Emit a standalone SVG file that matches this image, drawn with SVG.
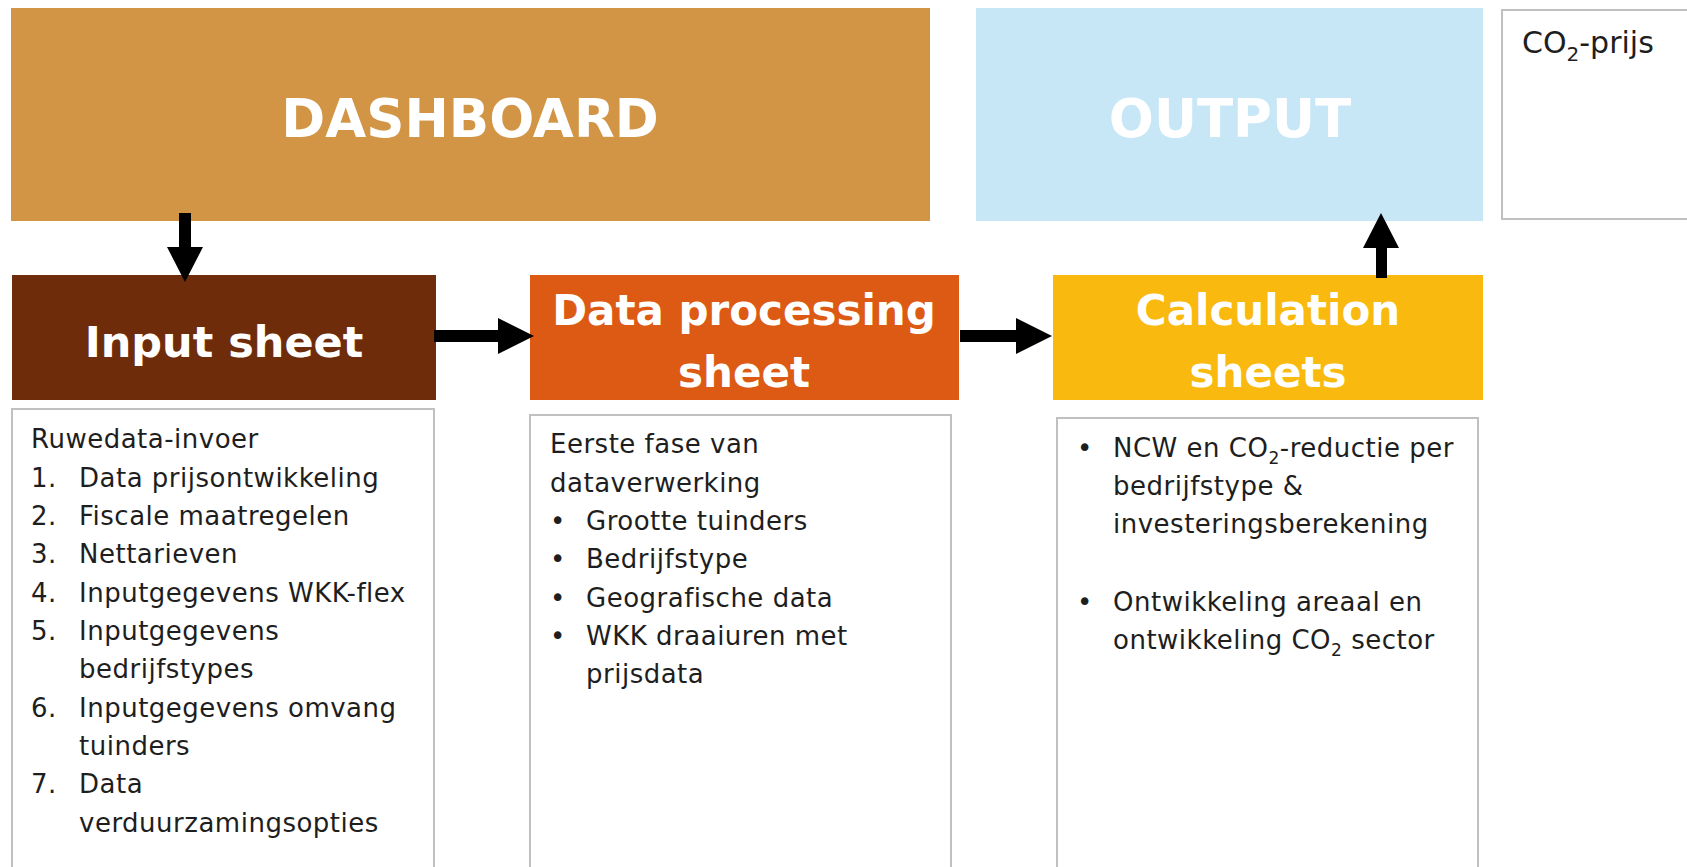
<svg xmlns="http://www.w3.org/2000/svg" width="1687" height="867" viewBox="0 0 1687 867">
<style>
.title{font-family:"DejaVu Sans",Verdana,sans-serif;font-weight:bold;fill:#ffffff;text-anchor:middle}
.big{font-size:53px}
.mid{font-size:42px}
.body{font-family:"DejaVu Sans",Verdana,sans-serif;font-size:26px;fill:#1e1e1e;letter-spacing:0.5px}
.co2{font-family:"DejaVu Sans",Verdana,sans-serif;font-size:30px;fill:#1e1e1e}
.tbox{fill:#ffffff;stroke:#c0c0c0;stroke-width:2}
.arrow{fill:#000000}
</style>
<rect width="1687" height="867" fill="#ffffff"/>
<g id="dashboard">
<rect x="11" y="8" width="919" height="213" fill="#D29545"/>
<text class="title big" x="470" y="137">DASHBOARD</text>
</g>
<g id="output">
<rect x="976" y="8" width="507" height="213" fill="#C7E7F7"/>
<text class="title big" x="1230" y="137">OUTPUT</text>
</g>
<g id="co2prijs">
<rect class="tbox" x="1502" y="10" width="200" height="209"/>
<text class="co2" x="1522" y="53">CO<tspan font-size="20" dy="8">2</tspan><tspan dy="-8">-prijs</tspan></text>
</g>
<g id="input-sheet">
<rect x="12" y="275" width="424" height="125" fill="#6E2C0A"/>
<text class="title" font-size="43" x="224" y="357">Input sheet</text>
</g>
<g id="data-processing-sheet">
<rect x="530" y="275" width="429" height="125" fill="#DC5A14"/>
<text class="title mid" x="744" y="325">Data processing</text>
<text class="title mid" x="744" y="387">sheet</text>
</g>
<g id="calculation-sheets">
<rect x="1053" y="275" width="430" height="125" fill="#F9B90E"/>
<text class="title mid" x="1268" y="325">Calculation</text>
<text class="title mid" x="1268" y="387">sheets</text>
</g>
<g id="input-text">
<rect class="tbox" x="12" y="409" width="422" height="470"/>
<text class="body" x="31" y="448">Ruwedata-invoer</text>
<text class="body" x="31" y="487">1.</text><text class="body" x="79" y="487">Data prijsontwikkeling</text>
<text class="body" x="31" y="525">2.</text><text class="body" x="79" y="525">Fiscale maatregelen</text>
<text class="body" x="31" y="563">3.</text><text class="body" x="79" y="563">Nettarieven</text>
<text class="body" x="31" y="602">4.</text><text class="body" x="79" y="602">Inputgegevens WKK-flex</text>
<text class="body" x="31" y="640">5.</text><text class="body" x="79" y="640">Inputgegevens</text>
<text class="body" x="79" y="678">bedrijfstypes</text>
<text class="body" x="31" y="717">6.</text><text class="body" x="79" y="717">Inputgegevens omvang</text>
<text class="body" x="79" y="755">tuinders</text>
<text class="body" x="31" y="793">7.</text><text class="body" x="79" y="793">Data</text>
<text class="body" x="79" y="832">verduurzamingsopties</text>
</g>
<g id="data-text">
<rect class="tbox" x="530" y="415" width="421" height="470"/>
<text class="body" x="550" y="453">Eerste fase van</text>
<text class="body" x="550" y="492">dataverwerking</text>
<text class="body" x="550" y="530">•</text><text class="body" x="586" y="530">Grootte tuinders</text>
<text class="body" x="550" y="568">•</text><text class="body" x="586" y="568">Bedrijfstype</text>
<text class="body" x="550" y="607">•</text><text class="body" x="586" y="607">Geografische data</text>
<text class="body" x="550" y="645">•</text><text class="body" x="586" y="645">WKK draaiuren met</text>
<text class="body" x="586" y="683">prijsdata</text>
</g>
<g id="calc-text">
<rect class="tbox" x="1057" y="418" width="421" height="470"/>
<text class="body" x="1077" y="457">•</text><text class="body" x="1113" y="457">NCW en CO<tspan font-size="17" dy="7">2</tspan><tspan dy="-7">-reductie per</tspan></text>
<text class="body" x="1113" y="495">bedrijfstype &amp;</text>
<text class="body" x="1113" y="533">investeringsberekening</text>
<text class="body" x="1077" y="611">•</text><text class="body" x="1113" y="611">Ontwikkeling areaal en</text>
<text class="body" x="1113" y="649">ontwikkeling CO<tspan font-size="17" dy="7">2</tspan><tspan dy="-7"> sector</tspan></text>
</g>
<g id="connectors">
<path class="arrow" d="M179,213 H191 V247 H203 L185,282 L167,247 H179 Z"/>
<path class="arrow" d="M434,330 H498 V318 L534,336 L498,354 V342 H434 Z"/>
<path class="arrow" d="M960,330 H1016 V318 L1052,336 L1016,354 V342 H960 Z"/>
<path class="arrow" d="M1376,278 V248 H1363 L1381,213 L1399,248 H1387 V278 Z"/>
</g>
</svg>
